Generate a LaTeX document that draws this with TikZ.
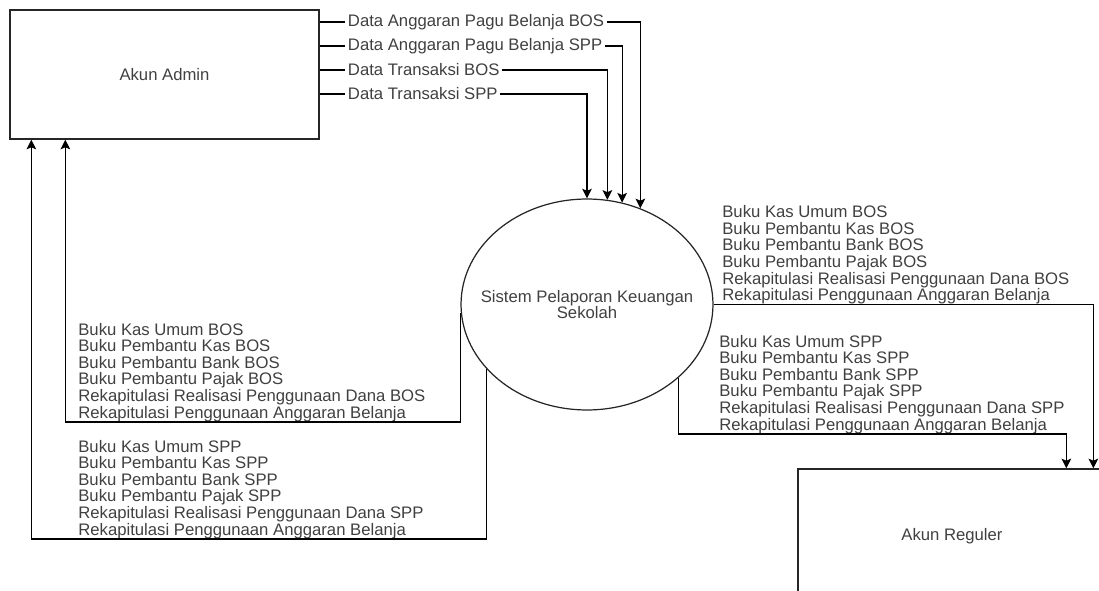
\documentclass[tikz,border=0pt]{standalone}
\usepackage{fontspec}
\setmainfont{Liberation Sans}
\usepackage{tikz}
\usetikzlibrary{shapes.geometric,arrows.meta}
\usetikzlibrary{calc}
\pgfdeclarelayer{bg}
\pgfsetlayers{bg,main}

\begin{document}
\begin{tikzpicture}[x=0.02cm,y=-0.02cm]

        \tikzstyle{every node}=[text=black!75,font=\fontsize{9.5}{9.45}\selectfont]
        \tikzstyle{entity}=[draw=black!85,line width=0.8pt,rectangle,minimum width=6.18cm,minimum height=2.58cm]
        \tikzstyle{process}=[draw=black!85,line width=0.7pt,ellipse,inner sep=0pt,minimum width=5.04cm,minimum height=4.22cm]
        \tikzstyle{flow}=[-{Stealth[length=5.5pt,width=5.5pt,inset=1.2pt]},line width=0.6pt]
        \tikzstyle{flowlabel}=[fill=white,anchor=west,inner xsep=1.5pt,inner ysep=1pt]
        \tikzstyle{txtblock}=[anchor=south west,align=left,inner sep=0pt]

        \useasboundingbox (0,0) rectangle (1099,591);
        \clip (0,0) rectangle (1099,591);

        \node[entity] (admin) at (164.5,74.5) {Akun Admin};
        \node[entity,minimum width=6.16cm,minimum height=2.68cm] (reguler) at (952,536) {Akun Reguler};
        \node[process] (sys) at (587,304.5) {};
        \node[align=center] (systxt) at (sys.center) {Sistem Pelaporan Keuangan\\Sekolah};

        % input flows from admin
        \foreach \i / \y / \a / \t in {1/22/61/Data Anggaran Pagu Belanja BOS,2/46/71/Data Anggaran Pagu Belanja SPP,3/70/79/Data Transaksi BOS,4/94/90/Data Transaksi SPP} {
            \node[flowlabel] (lbl_\i) at (345,\y) {\t};

            \begin{pgfonlayer}{bg}
                \draw[flow] (admin.east |- lbl_\i) -| (sys.\a);
            \end{pgfonlayer}
        }

        % report blocks
        \node[txtblock] (bosL) at (78,422) {Buku Kas Umum BOS\\Buku Pembantu Kas BOS\\Buku Pembantu Bank BOS\\Buku Pembantu Pajak BOS\\Rekapitulasi Realisasi Penggunaan Dana BOS\\Rekapitulasi Penggunaan Anggaran Belanja};
        \node[txtblock] (sppL) at (78,539) {Buku Kas Umum SPP\\Buku Pembantu Kas SPP\\Buku Pembantu Bank SPP\\Buku Pembantu Pajak SPP\\Rekapitulasi Realisasi Penggunaan Dana SPP\\Rekapitulasi Penggunaan Anggaran Belanja};
        \node[txtblock] (bosR) at (722,304.5) {Buku Kas Umum BOS\\Buku Pembantu Kas BOS\\Buku Pembantu Bank BOS\\Buku Pembantu Pajak BOS\\Rekapitulasi Realisasi Penggunaan Dana BOS\\Rekapitulasi Penggunaan Anggaran Belanja};
        \node[txtblock] (sppR) at (719,434) {Buku Kas Umum SPP\\Buku Pembantu Kas SPP\\Buku Pembantu Bank SPP\\Buku Pembantu Pajak SPP\\Rekapitulasi Realisasi Penggunaan Dana SPP\\Rekapitulasi Penggunaan Anggaran Belanja};

        \coordinate (in_bos) at ($(admin.south west)+(56,0)$);
        \coordinate (in_spp) at ($(admin.south west)+(22,0)$);
        \coordinate (out_bos) at ($(reguler.north west)+(296,0)$);
        \coordinate (out_spp) at ($(reguler.north west)+(269,0)$);

        % output flows
        \draw[flow] (sys.184) |- (in_bos |- bosL.south) -- (in_bos);
        \draw[flow] (sys.213) |- (in_spp |- sppL.south) -- (in_spp);
        \draw[flow] (sys.east) -| (out_bos);
        \draw[flow] (sys.321) |- (out_spp |- sppR.south) -- (out_spp);

    \end{tikzpicture}
\end{document}
